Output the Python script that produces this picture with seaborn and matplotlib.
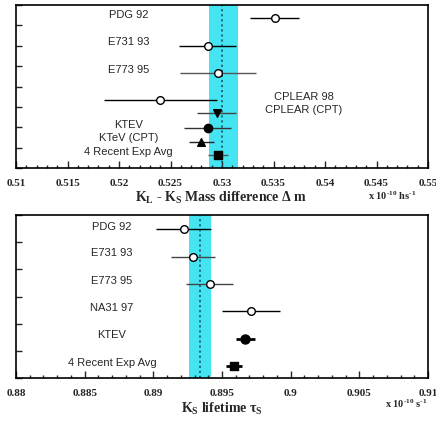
import numpy as np
import pandas as pd
import matplotlib
matplotlib.use("Agg")
import matplotlib.pyplot as plt
from matplotlib.ticker import MultipleLocator
import seaborn as sns

# ---------------- data ----------------
dm_labels = ["PDG 92", "E731 93", "E773 95", "CPLEAR 98", "CPLEAR (CPT)",
             "KTEV", "KTeV (CPT)", "4 Recent Exp Avg"]
dm_val = [0.5351, 0.5286, 0.5296, 0.5240, 0.5295, 0.5286, 0.5280, 0.5296]
dm_err = [0.0024, 0.0028, 0.0037, 0.0055, 0.0019, 0.0023, 0.0012, 0.0010]
dm_row = [7.34, 6.0, 4.67, 3.33, 2.69, 1.98, 1.29, 0.64]
dm_marker = ["o", "o", "o", "o", "v", "o", "^", "s"]
dm_filled = [False, False, False, False, True, True, True, True]
dm_band = [0.5287, 0.5316]
dm_center = 0.5300
dm_ticks = ["0.51", "0.515", "0.52", "0.525", "0.53", "0.535", "0.54", "0.545", "0.55"]

tau_labels = ["PDG 92", "E731 93", "E773 95", "NA31 97", "KTEV", "4 Recent Exp Avg"]
tau_val = [0.8922, 0.8929, 0.8941, 0.8971, 0.8967, 0.8959]
tau_err = [0.0020, 0.0016, 0.0017, 0.0021, 0.00067, 0.00058]
tau_row = [5.48, 4.46, 3.46, 2.47, 1.44, 0.44]
tau_marker = ["o", "o", "o", "o", "o", "s"]
tau_filled = [False, False, False, False, True, True]
tau_band = [0.8926, 0.8942]
tau_center = 0.8934
tau_ticks = ["0.88", "0.885", "0.89", "0.895", "0.9", "0.905", "0.91"]

# ---------------- style ----------------
sns.set_style("ticks")
plt.rcParams["font.family"] = ["Liberation Sans", "DejaVu Sans"]
plt.rcParams["mathtext.fontset"] = "custom"
plt.rcParams["mathtext.rm"] = "Liberation Serif:bold"
plt.rcParams["mathtext.it"] = "Liberation Serif:bold"
plt.rcParams["mathtext.bf"] = "Liberation Serif:bold"

BAND = "#45E4F2"
DOT = "#1F5F7A"
SERIF = ["Liberation Serif", "DejaVu Serif"]

fig = plt.figure(figsize=(4.36, 4.21), dpi=100)
ax1 = fig.add_axes([16 / 436, 1 - 168 / 421, 412 / 436, 163 / 421])
ax2 = fig.add_axes([16 / 436, 1 - 378 / 421, 412 / 436, 163 / 421])


def draw(ax, labels, vals, errs, rows, markers, filled, band, center,
         xlim, ylim, lw_list, ms_list, colors, ticks, ticklabels):
    ax.axvspan(band[0], band[1], color=BAND, lw=0, zorder=0)
    ax.axvline(center, color=DOT, ls=(0, (1.2, 1.6)), lw=1.3, zorder=1)
    df = pd.DataFrame({"label": labels, "x": vals, "err": errs, "y": rows,
                       "marker": markers, "filled": filled})
    for i, r in df.iterrows():
        ax.errorbar(r["x"], r["y"], xerr=r["err"], fmt="none",
                    ecolor=colors[i], elinewidth=lw_list[i], capsize=0, zorder=2)
    for i, r in df.iterrows():
        sub = df.iloc[[i]]
        sns.scatterplot(data=sub, x="x", y="y", ax=ax, marker=r["marker"],
                        s=ms_list[i] ** 2,
                        facecolor="black" if r["filled"] else "white",
                        edgecolor="black", linewidth=1.0, zorder=3, legend=False)
    ax.set_xlim(*xlim)
    ax.set_ylim(*ylim)
    ax.set_xlabel("")
    ax.set_ylabel("")
    for s in ax.spines.values():
        s.set_visible(True)
        s.set_linewidth(1.2)
        s.set_color("black")
        s.set_zorder(4)
    ax.set_xticks(ticks)
    ax.set_xticklabels(ticklabels, fontfamily=SERIF, fontweight="bold", fontsize=8)
    ax.xaxis.set_minor_locator(MultipleLocator(0.001))
    ax.yaxis.set_major_locator(MultipleLocator(1))
    ax.set_yticklabels([])
    ax.tick_params(axis="y", which="major", direction="in", length=4, width=1.0,
                   left=True, right=False)
    ax.tick_params(axis="x", which="major", direction="in", length=5, width=1.0,
                   top=False, pad=8)
    ax.tick_params(axis="x", which="minor", direction="in", length=2.3, width=1.0,
                   top=False)


# top panel
draw(ax1, dm_labels, dm_val, dm_err, dm_row, dm_marker, dm_filled, dm_band,
     dm_center, (0.51, 0.55), (0, 8),
     [1.0] * 8, [5.5, 5.5, 5.5, 5.5, 5.5, 6.0, 5.5, 6.0],
     ["black", "black", "#555555", "black", "#444444", "#333333", "#222222", "#555555"],
     np.linspace(0.51, 0.55, len(dm_ticks)), dm_ticks)

txt_x = 0.52094
for lab, yy in [("PDG 92", 7.5), ("E731 93", 6.18), ("E773 95", 4.82),
                ("KTEV", 2.12), ("KTeV (CPT)", 1.49), ("4 Recent Exp Avg", 0.78)]:
    ax1.text(txt_x, yy, lab, ha="center", va="center", fontsize=8, zorder=5)
ax1.text(0.53797, 3.47, "CPLEAR 98", ha="center", va="center", fontsize=8)
ax1.text(0.53797, 2.83, "CPLEAR (CPT)", ha="center", va="center", fontsize=8)

fig.text(221 / 436, 1 - 198 / 421, r"K$_{\rm L}$ - K$_{\rm S}$ Mass difference Δ m",
         ha="center", va="center", fontsize=10, fontfamily=SERIF, fontweight="bold")
fig.text(392 / 436, 1 - 196 / 421, r"x 10$^{\text{-10}}$ hs$^{\text{-1}}$",
         ha="center", va="center", fontsize=7.5, fontfamily=SERIF, fontweight="bold")

# bottom panel
draw(ax2, tau_labels, tau_val, tau_err, tau_row, tau_marker, tau_filled, tau_band,
     tau_center, (0.88, 0.91), (0, 6),
     [1.0, 1.0, 1.0, 1.0, 2.0, 2.0], [5.5, 5.5, 5.5, 5.5, 6.5, 6.0],
     ["black", "#444444", "#444444", "black", "black", "black"],
     np.linspace(0.88, 0.91, len(tau_ticks)), tau_ticks)

txt_x2 = 0.88699
for lab, yy in zip(tau_labels, [5.57, 4.59, 3.58, 2.57, 1.57, 0.54]):
    ax2.text(txt_x2, yy, lab, ha="center", va="center", fontsize=8, zorder=5)

fig.text(222 / 436, 1 - 409 / 421, r"K$_{\rm S}$ lifetime τ$_{\rm S}$",
         ha="center", va="center", fontsize=10, fontfamily=SERIF, fontweight="bold")
fig.text(406 / 436, 1 - 404 / 421, r"x 10$^{\text{-10}}$ s$^{\text{-1}}$",
         ha="center", va="center", fontsize=7.5, fontfamily=SERIF, fontweight="bold")

fig.savefig("out.png", dpi=100, facecolor="white")
